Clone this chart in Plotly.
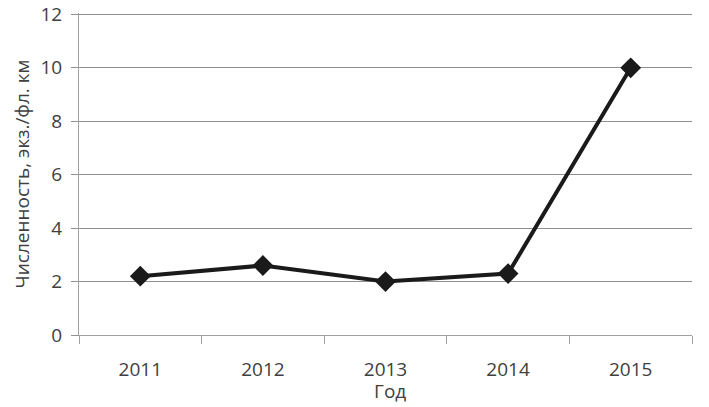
import plotly.graph_objects as go

years = ["2011", "2012", "2013", "2014", "2015"]
values = [2.2, 2.6, 2.0, 2.3, 10.0]
y_ticks = [0, 2, 4, 6, 8, 10, 12]

fig = go.Figure()
fig.add_trace(go.Scatter(
    x=years, y=values, mode="lines+markers",
    line=dict(color="#1a1a1a", width=4),
    marker=dict(symbol="diamond", size=16, color="#1a1a1a"),
    showlegend=False,
))

font_family = "Open Sans, Liberation Sans, sans-serif"
fig.update_layout(
    width=709, height=407,
    margin=dict(l=71, r=25, t=5, b=80),
    paper_bgcolor="white", plot_bgcolor="white",
    font=dict(family=font_family, color="#404040"),
    xaxis=dict(
        type="category",
        tickson="boundaries",
        ticks="outside", ticklen=8, tickcolor="#a0a0a0", tickwidth=1,
        showline=True, linecolor="#a0a0a0", linewidth=1,
        showgrid=False,
        automargin=False,
        ticklabelstandoff=17,
        tickfont=dict(size=19, color="#404040"),
        range=[-0.5, 4.5],
    ),
    yaxis=dict(
        range=[0, 12.05],
        tickvals=y_ticks,
        automargin=False,
        ticklabeloverflow="allow",
        ticks="outside", ticklen=7, tickcolor="#909090",
        showline=True, linecolor="#a0a0a0", linewidth=1,
        showgrid=True, gridcolor="#909090", gridwidth=1,
        zeroline=False,
        ticklabelstandoff=5,
        tickfont=dict(size=19, color="#404040"),
        title=dict(text="Численность, экз./фл. км", font=dict(size=19, color="#404040"), standoff=5),
    ),
    annotations=[dict(
        text="Год", xref="paper", yref="paper", x=0.5, y=0,
        xanchor="center", yanchor="middle", xshift=4, yshift=-56,
        showarrow=False, font=dict(size=19, color="#404040"),
    )],
)

fig.write_html("out.html")
